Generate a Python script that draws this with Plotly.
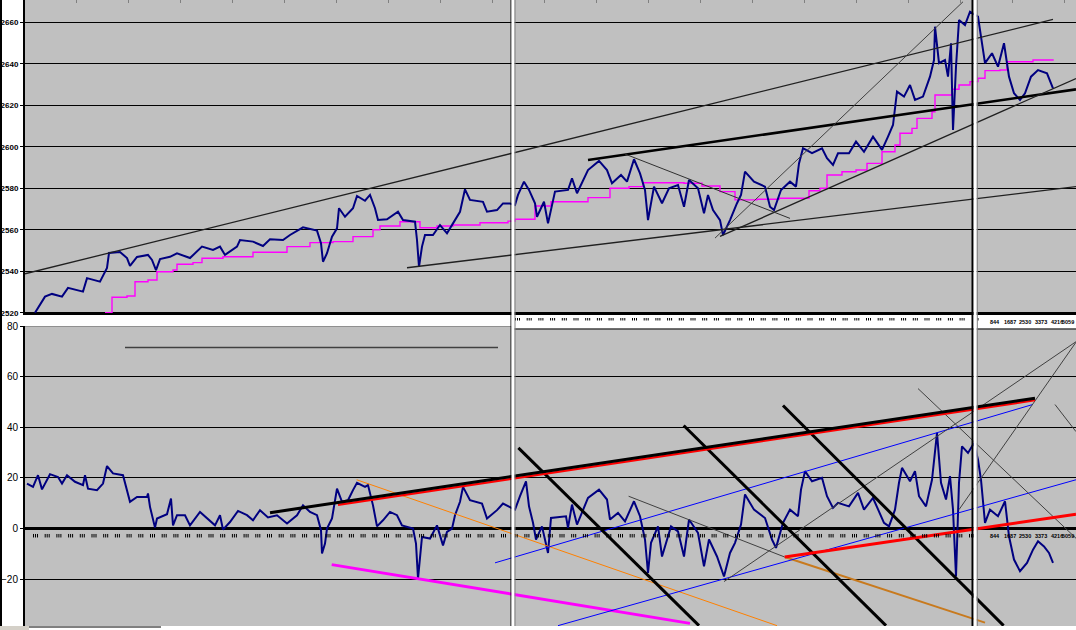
import plotly.graph_objects as go

W, H = 1076, 630
PLOT_LEFT = 25          # px where the plot area starts
N_BARS = W - PLOT_LEFT  # bar index range shown

# ---------------- data (bar index, value) ----------------
price_pts = [
    (10, 2520.0), (15, 2523.8), (20, 2527.8), (27, 2529.1), (37, 2527.8), (43, 2532.0),
    (58, 2530.2), (62, 2536.7), (75, 2535.0), (82, 2541.6), (84, 2548.8), (95, 2549.3),
    (102, 2546.4), (105, 2542.6), (112, 2546.9), (123, 2547.9), (127, 2545.5), (131, 2540.6),
    (135, 2545.9), (145, 2547.0), (152, 2548.7), (165, 2546.4), (177, 2551.9), (188, 2550.3),
    (195, 2551.9), (200, 2547.9), (212, 2551.9), (215, 2555.1), (228, 2554.3), (238, 2552.2),
    (245, 2555.4), (258, 2555.1), (265, 2557.5), (278, 2561.2), (292, 2559.6), (296, 2553.5),
    (298, 2544.6), (302, 2548.7), (307, 2556.7), (312, 2560.7), (314, 2570.4), (320, 2566.3),
    (328, 2570.4), (332, 2576.3), (340, 2574.0), (345, 2576.8), (350, 2570.4), (353, 2564.7),
    (362, 2565.1), (373, 2568.7), (378, 2564.7), (390, 2563.9), (392, 2555.1), (394, 2542.2),
    (397, 2551.9), (400, 2557.5), (408, 2557.5), (415, 2562.3), (422, 2558.3), (428, 2563.1),
    (435, 2568.7), (440, 2579.5), (445, 2574.4), (458, 2573.5), (462, 2568.7), (472, 2569.5),
    (478, 2572.7), (485, 2572.7), (490, 2572.0), (493, 2576.8), (499, 2583.2), (504, 2579.2),
    (510, 2572.8), (512, 2566.3), (519, 2573.5), (523, 2563.1), (530, 2578.4), (543, 2579.2),
    (547, 2584.8), (552, 2577.6), (563, 2588.8), (574, 2593.2), (582, 2588.8), (587, 2582.4),
    (596, 2586.4), (602, 2583.2), (609, 2594.0), (615, 2587.2), (620, 2579.2), (623, 2564.7),
    (629, 2580.8), (637, 2572.8), (644, 2580.0), (653, 2581.6), (659, 2571.1), (664, 2584.0),
    (673, 2580.0), (679, 2568.0), (683, 2576.8), (688, 2569.5), (695, 2564.7), (698, 2557.5),
    (705, 2564.7), (712, 2572.8), (716, 2576.8), (720, 2588.0), (729, 2583.2), (740, 2580.8),
    (745, 2571.1), (749, 2569.5), (756, 2579.2), (765, 2583.2), (771, 2580.8), (774, 2592.0),
    (778, 2599.3), (787, 2596.9), (797, 2599.3), (802, 2594.5), (808, 2591.3), (813, 2596.9),
    (824, 2596.9), (831, 2602.5), (839, 2597.6), (848, 2604.9), (857, 2598.5), (863, 2604.9),
    (868, 2610.5), (872, 2626.6), (879, 2624.2), (885, 2629.8), (890, 2622.6), (898, 2624.2),
    (905, 2633.8), (909, 2641.8), (910, 2657.9), (914, 2640.3), (920, 2641.8), (923, 2633.8),
    (926, 2649.9), (928, 2608.1), (931, 2638.6), (934, 2661.1), (940, 2658.7), (945, 2665.1),
    (953, 2662.7), (956, 2653.1), (960, 2640.3), (967, 2645.1), (973, 2638.6), (979, 2649.9),
    (984, 2633.8), (989, 2625.8), (995, 2622.6), (1000, 2625.8), (1006, 2633.8), (1013, 2637.0),
    (1022, 2635.4), (1028, 2628.2),
]

ma_pts = [
    (80, 2520.0), (87, 2527.5), (102, 2528.1), (110, 2535.0), (123, 2535.8), (132, 2539.8),
    (148, 2540.6), (152, 2543.4), (168, 2544.2), (177, 2546.3), (198, 2547.0), (228, 2549.2),
    (262, 2551.9), (285, 2553.8), (308, 2554.3), (328, 2556.7), (348, 2560.0), (355, 2561.8),
    (375, 2563.9), (392, 2563.9), (395, 2561.0), (412, 2561.8), (428, 2562.3), (455, 2563.4),
    (483, 2564.2), (490, 2565.1), (503, 2565.1), (510, 2571.5), (526, 2573.5), (563, 2575.5),
    (585, 2580.0), (604, 2580.8), (618, 2582.7), (659, 2582.4), (677, 2581.1), (695, 2578.4),
    (710, 2574.4), (732, 2574.7), (754, 2575.2), (776, 2575.2), (784, 2578.8), (795, 2580.0),
    (802, 2586.4), (817, 2588.0), (831, 2588.8), (842, 2592.0), (857, 2597.6), (870, 2600.9),
    (875, 2606.5), (887, 2608.9), (892, 2613.7), (907, 2616.9), (910, 2625.0), (927, 2627.7),
    (934, 2629.8), (945, 2631.4), (953, 2633.0), (960, 2636.7), (975, 2637.0), (982, 2641.0),
    (1004, 2641.0), (1008, 2641.8), (1028, 2642.2),
]

osc_pts = [
    (2, 17.8), (8, 16.5), (13, 21.1), (17, 15.5), (25, 21.5), (33, 20.4), (37, 17.8), (42, 21.1),
    (50, 18.5), (58, 17.2), (60, 21.1), (63, 15.8), (72, 15.2), (78, 17.8), (82, 24.7), (88, 21.8),
    (98, 21.1), (102, 15.2), (105, 10.6), (112, 12.5), (122, 12.5), (123, 13.9), (125, 8.6),
    (130, 0.4), (132, 4.0), (142, 5.7), (146, 11.9), (148, 1.3), (152, 5.3), (160, 5.3), (165, 1.3),
    (175, 6.6), (185, 3.3), (190, 1.3), (195, 5.3), (198, -0.4), (205, 2.6), (213, 7.0), (222, 5.3),
    (228, 3.3), (235, 7.3), (243, 4.4), (252, 5.3), (262, 2.0), (272, 5.3), (278, 9.2), (285, 6.6),
    (292, 5.3), (296, -0.6), (297, -9.8), (300, -5.9), (302, 0.0), (307, 4.0), (312, 15.8),
    (317, 10.6), (323, 11.2), (328, 15.2), (332, 18.1), (340, 16.5), (343, 17.2), (348, 9.2),
    (352, 0.9), (358, 3.3), (365, 6.6), (372, 5.3), (377, 1.3), (388, 0.0), (391, -5.9),
    (393, -19.7), (397, -3.3), (405, -3.9), (412, 1.3), (418, -6.6), (422, -1.3), (427, 0.0),
    (430, 5.3), (435, 10.6), (438, 16.5), (445, 11.2), (457, 9.9), (462, 4.0), (472, 7.3),
    (478, 9.9), (485, 8.6), (490, 7.5), (495, 12.8), (501, 18.7), (504, 8.8), (508, 2.3),
    (511, -4.3), (517, 0.9), (523, -9.6), (526, 4.2), (541, 4.9), (543, 0.3), (547, 9.5),
    (552, 1.6), (563, 12.1), (574, 15.4), (582, 11.5), (585, 3.6), (593, 6.2), (600, 2.9),
    (609, 10.8), (615, 4.9), (620, -4.3), (623, -17.5), (626, -5.6), (633, 0.9), (637, -11.0),
    (646, 0.9), (653, -1.1), (659, -11.0), (664, 3.6), (673, -1.7), (679, -14.9), (684, -4.3),
    (692, -11.0), (699, -18.9), (705, -9.6), (710, -5.6), (716, 1.6), (720, 13.5), (729, 7.5),
    (740, 4.2), (747, -4.3), (751, -7.6), (758, 2.3), (765, 7.5), (773, 4.9), (776, 15.4),
    (780, 22.7), (787, 18.7), (797, 20.1), (802, 12.8), (808, 8.2), (813, 10.2), (824, 8.8),
    (833, 14.1), (839, 7.5), (848, 12.1), (859, 2.3), (864, 0.9), (870, 7.5), (874, 18.1),
    (877, 24.0), (885, 18.7), (890, 22.7), (894, 12.8), (901, 8.8), (907, 19.3), (912, 37.8),
    (916, 18.1), (921, 11.5), (925, 20.7), (928, 7.5), (931, -18.9), (934, 18.1), (937, 32.5),
    (943, 29.9), (949, 33.8), (953, 27.2), (956, 19.3), (960, 2.3), (965, 7.5), (973, 4.9),
    (980, 10.8), (984, -3.0), (989, -12.2), (995, -16.8), (1002, -13.5), (1008, -8.3),
    (1013, -5.0), (1019, -7.0), (1024, -9.6), (1028, -13.5),
]

price_ticks = [2520, 2540, 2560, 2580, 2600, 2620, 2640, 2660]
osc_ticks = [-20, 0, 20, 40, 60, 80]

# trend lines: endpoints (bar index, value)
top_line_x = [[0, 1028], [382, 1051], [563, 1051], [690, 938], [695, 1051], [600, 765]]
top_line_y = [[2538.8, 2661.4], [2541.7, 2580.8], [2593.6, 2627.7], [2556.0, 2669.9],
              [2556.8, 2632.9], [2596.5, 2565.5]]
top_line_style = [("#202020", 1.3), ("#202020", 1.3), ("#000000", 2.6), ("#404040", 1.0),
                  ("#202020", 1.3), ("#303030", 1.0)]

low_line_x = [[100, 473], [331.7, 752], [759.7, 960], [306.7, 665], [470, 1007.7], [533, 1051],
              [699, 1051], [934, 1051], [893, 1051], [1030, 1051], [603.6, 759.7],
              [493.4, 674], [658.7, 861], [758, 978.6], [759.7, 1051], [313, 1010], [245, 1010]]
low_line_y = [[71.5, 71.5], [19.3, -38.3], [-11.2, -37.1], [-14.2, -37.4], [-13.5, 49.0],
              [-38.3, 19.3], [-20.9, 73.8], [7.5, 73.6], [55.3, -3.8], [49.0, 38.3],
              [12.8, -11.2], [31.9, -38.3], [40.7, -38.3], [48.6, -38.3], [-11.2, 5.7],
              [9.4, 50.7], [6.3, 51.5]]
low_line_style = [("#404040", 1.5), ("#FF8000", 1.0), ("#C87A1E", 2.0), ("#FF00FF", 3.0),
                  ("#0000FF", 1.0), ("#0000FF", 1.0), ("#404040", 1.0), ("#404040", 1.0),
                  ("#404040", 1.0), ("#404040", 1.0), ("#404040", 1.0), ("#000000", 3.0),
                  ("#000000", 3.0), ("#000000", 3.0), ("#FF0000", 3.0), ("#FF0000", 2.2),
                  ("#000000", 3.0)]

bar_labels = ["844", "1687", "2530", "3373", "4216", "5059"]
bar_label_pos = [970, 985, 1000, 1016, 1032, 1051]

# ---------------- helpers ----------------
def ypap(py):
    return 1 - py / H

def xpap(px):
    return px / W

TOP_PY0, TOP_PY1 = 0, 315
LOW_PY0, LOW_PY1 = 326, 626
p_per_px = 20 / 41.5
price_range = [2660 - (TOP_PY1 - 22.3) * p_per_px, 2660 + 22.3 * p_per_px]
o_per_px = 100 / 253.3
osc_range = [80 - (LOW_PY1 - LOW_PY0) * o_per_px, 80]

NAVY = "#000080"
fig = go.Figure()

pb, pv = zip(*price_pts)
mb, mv = zip(*ma_pts)
ob, ov = zip(*osc_pts)

fig.add_trace(go.Scatter(x=mb, y=mv, mode="lines", line=dict(color="#FF00FF", width=1.4, shape="hv"),
                         xaxis="x", yaxis="y", hoverinfo="skip"))
fig.add_trace(go.Scatter(x=pb, y=pv, mode="lines", line=dict(color=NAVY, width=2.0),
                         xaxis="x", yaxis="y", hoverinfo="skip"))
for xs, ys, (c, w) in zip(top_line_x, top_line_y, top_line_style):
    fig.add_trace(go.Scatter(x=xs, y=ys, mode="lines", line=dict(color=c, width=w),
                             xaxis="x", yaxis="y", hoverinfo="skip"))

fig.add_trace(go.Scatter(x=ob, y=ov, mode="lines", line=dict(color=NAVY, width=2.0),
                         xaxis="x2", yaxis="y2", hoverinfo="skip"))
for xs, ys, (c, w) in zip(low_line_x, low_line_y, low_line_style):
    fig.add_trace(go.Scatter(x=xs, y=ys, mode="lines", line=dict(color=c, width=w),
                             xaxis="x2", yaxis="y2", hoverinfo="skip"))

# time-axis tick marks (decorative): inside lower panel and in the strip
row_marks = [10 + 11.7 * k + d for k in range(81) for d in (-1.5, 0.5, 2.5)]
fig.add_trace(go.Scatter(x=row_marks, y=[-2.8] * len(row_marks), mode="markers",
                         marker=dict(symbol="line-ns", size=2.5, line=dict(width=1, color="black")),
                         xaxis="x2", yaxis="y2", hoverinfo="skip"))

shapes = []
strip_marks = [492 + 11.7 * k + d for k in range(39) for d in (-1.5, 0.5, 2.5)] + [953]
for m in strip_marks:
    shapes.append(dict(type="line", xref="x", yref="paper", x0=m, x1=m,
                       y0=ypap(320.5), y1=ypap(318), line=dict(color="black", width=1), layer="above"))

annotations = []
LAB_FONT = dict(family="Liberation Sans", size=5.5, color="black")
for lab, pos in zip(bar_labels, bar_label_pos):
    anchor = "right" if pos >= N_BARS else "center"
    annotations.append(dict(x=pos, y=-2.9, xref="x2", yref="y2", text="<b>" + lab + "</b>",
                            showarrow=False, font=LAB_FONT, xanchor=anchor, yanchor="middle"))
    annotations.append(dict(x=pos, y=ypap(322), xref="x2", yref="paper", text="<b>" + lab + "</b>",
                            showarrow=False, font=LAB_FONT, xanchor=anchor, yanchor="middle"))

# top panel bottom border
shapes.append(dict(type="line", xref="paper", yref="paper", x0=xpap(PLOT_LEFT), x1=1, y0=ypap(314),
                   y1=ypap(314), line=dict(color="black", width=2), layer="above"))
# strip bottom border (middle + right segment)
shapes.append(dict(type="line", xref="paper", yref="paper", x0=xpap(514), x1=1, y0=ypap(329),
                   y1=ypap(329), line=dict(color="black", width=1), layer="above"))
shapes.append(dict(type="rect", xref="paper", yref="paper", x0=xpap(514), x1=1, y0=ypap(328.6),
                   y1=ypap(315), fillcolor="white", line=dict(width=0), layer="below"))
# left-segment grey top edge of lower panel
shapes.append(dict(type="line", xref="x2", yref="y2", x0=0, x1=486, y0=80, y1=80,
                   line=dict(color="#808080", width=1.5), layer="above"))
# left edge black line
shapes.append(dict(type="line", xref="paper", yref="paper", x0=xpap(1), x1=xpap(1), y0=0, y1=1,
                   line=dict(color="black", width=2), layer="above"))
# segment separators
for px, col, w in [(511, "black", 1), (513, "white", 3), (515, "#808080", 1),
                   (972.5, "black", 2), (975.2, "white", 3), (977.3, "#808080", 1)]:
    shapes.append(dict(type="line", xref="paper", yref="paper", x0=xpap(px), x1=xpap(px),
                       y0=ypap(626), y1=1, line=dict(color=col, width=w), layer="above"))
# bottom tab strip
shapes.append(dict(type="rect", xref="paper", yref="paper", x0=0, x1=xpap(29), y0=0, y1=ypap(626),
                   fillcolor="#D4D0C8", line=dict(width=0), layer="above"))
shapes.append(dict(type="line", xref="paper", yref="paper", x0=xpap(29), x1=xpap(161),
                   y0=ypap(627), y1=ypap(627), line=dict(color="black", width=1), layer="above"))

fig.update_layout(
    width=W, height=H,
    margin=dict(l=0, r=0, t=0, b=0),
    paper_bgcolor="white",
    plot_bgcolor="#C0C0C0",
    showlegend=False,
    shapes=shapes,
    annotations=annotations,
    xaxis=dict(domain=[xpap(PLOT_LEFT), 1], range=[0, N_BARS], anchor="y", side="top",
               showticklabels=False, ticks="inside", ticklen=3, tickcolor="#808080",
               tick0=0, dtick=51.95, showline=True, linecolor="#A0A0A0", linewidth=2,
               showgrid=False, zeroline=False, fixedrange=True, automargin=False),
    yaxis=dict(domain=[ypap(TOP_PY1), 1], range=price_range, tickvals=price_ticks,
               ticks="outside", ticklen=3, tickcolor="black", tickwidth=1,
               showgrid=True, gridcolor="black", gridwidth=1,
               showline=True, linecolor="black", linewidth=2, zeroline=False,
               tickfont=dict(family="Liberation Sans", size=8, color="black", weight="bold"),
               fixedrange=True, automargin=False),
    xaxis2=dict(domain=[xpap(PLOT_LEFT), 1], range=[0, N_BARS], anchor="y2", visible=False,
                fixedrange=True),
    yaxis2=dict(domain=[ypap(LOW_PY1), ypap(LOW_PY0)], range=osc_range, tickvals=osc_ticks,
                ticks="outside", ticklen=3, tickcolor="black", tickwidth=1,
                showgrid=True, gridcolor="black", gridwidth=1,
                zeroline=True, zerolinecolor="black", zerolinewidth=2.5,
                showline=True, linecolor="black", linewidth=2,
                tickfont=dict(family="Liberation Sans", size=10, color="black"),
                fixedrange=True, automargin=False, anchor="x2"),
)

fig.write_html("out.html", config={"displayModeBar": False},
               post_script="document.body.style.margin='0px';document.body.style.overflow='hidden';")
